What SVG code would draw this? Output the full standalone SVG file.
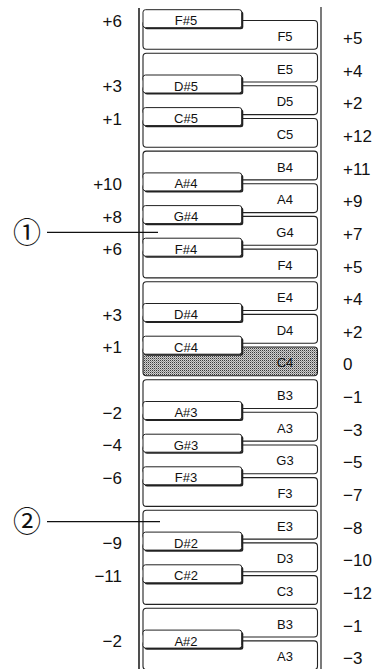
<svg xmlns="http://www.w3.org/2000/svg" width="381" height="669" viewBox="0 0 381 669">
<defs>
<pattern id="dots" width="2" height="2" patternUnits="userSpaceOnUse">
<rect width="2" height="2" fill="#d0d0d0"/>
<rect width="1" height="1" fill="#3a3a3a"/>
<rect x="1" y="1" width="1" height="1" fill="#909090"/>
</pattern>
</defs>
<style>
.wk{fill:#fff;stroke:#222;stroke-width:1.1}
.sh{fill:#222}
.bk{fill:#fff;stroke:#222;stroke-width:1}
.wl{font-family:"Liberation Sans",Arial,sans-serif;font-size:13px;fill:#111;text-anchor:middle}
.bl{font-family:"Liberation Sans",Arial,sans-serif;font-size:13px;fill:#111;text-anchor:middle}
.rn{font-family:"Liberation Sans",Arial,sans-serif;font-size:17px;fill:#111}
.ln{font-family:"Liberation Sans",Arial,sans-serif;font-size:17px;fill:#111;text-anchor:end}
.frame{stroke:#222;fill:none}
.lead{stroke:#111;stroke-width:1.2;fill:none}
.circ{font-family:"Noto Sans CJK JP","DejaVu Sans",sans-serif;font-size:28px;fill:#111;text-anchor:middle}
</style>
<g id="frame">
<line class="frame" x1="139" y1="8" x2="139" y2="669" stroke-width="1.6"/>
<line class="frame" x1="321" y1="7" x2="321" y2="669" stroke-width="1.2"/>
</g>
<g id="white-keys">
<g id="key-F5"><rect class="wk" x="143" y="20.5" width="174.5" height="28.8" rx="3.5"/><text class="wl" x="285" y="40.9">F5</text></g>
<g id="key-E5"><rect class="wk" x="143" y="53.2" width="174.5" height="28.8" rx="3.5"/><text class="wl" x="285" y="73.6">E5</text></g>
<g id="key-D5"><rect class="wk" x="143" y="85.8" width="174.5" height="28.8" rx="3.5"/><text class="wl" x="285" y="106.2">D5</text></g>
<g id="key-C5"><rect class="wk" x="143" y="118.5" width="174.5" height="28.8" rx="3.5"/><text class="wl" x="285" y="138.9">C5</text></g>
<g id="key-B4"><rect class="wk" x="143" y="151.1" width="174.5" height="28.8" rx="3.5"/><text class="wl" x="285" y="171.5">B4</text></g>
<g id="key-A4"><rect class="wk" x="143" y="183.8" width="174.5" height="28.8" rx="3.5"/><text class="wl" x="285" y="204.2">A4</text></g>
<g id="key-G4"><rect class="wk" x="143" y="216.4" width="174.5" height="28.8" rx="3.5"/><text class="wl" x="285" y="236.8">G4</text></g>
<g id="key-F4"><rect class="wk" x="143" y="249.1" width="174.5" height="28.8" rx="3.5"/><text class="wl" x="285" y="269.5">F4</text></g>
<g id="key-E4"><rect class="wk" x="143" y="281.7" width="174.5" height="28.8" rx="3.5"/><text class="wl" x="285" y="302.1">E4</text></g>
<g id="key-D4"><rect class="wk" x="143" y="314.4" width="174.5" height="28.8" rx="3.5"/><text class="wl" x="285" y="334.8">D4</text></g>
<g id="key-C4"><rect class="wk" x="143" y="347" width="174.5" height="28.8" rx="3.5" style="fill:url(#dots)"/><text class="wl" x="285" y="367.4">C4</text></g>
<g id="key-B3"><rect class="wk" x="143" y="379.7" width="174.5" height="28.8" rx="3.5"/><text class="wl" x="285" y="400.1">B3</text></g>
<g id="key-A3"><rect class="wk" x="143" y="412.3" width="174.5" height="28.8" rx="3.5"/><text class="wl" x="285" y="432.7">A3</text></g>
<g id="key-G3"><rect class="wk" x="143" y="445" width="174.5" height="28.8" rx="3.5"/><text class="wl" x="285" y="465.4">G3</text></g>
<g id="key-F3"><rect class="wk" x="143" y="477.6" width="174.5" height="28.8" rx="3.5"/><text class="wl" x="285" y="498">F3</text></g>
<g id="key-E3"><rect class="wk" x="143" y="510.3" width="174.5" height="28.8" rx="3.5"/><text class="wl" x="285" y="530.7">E3</text></g>
<g id="key-D3"><rect class="wk" x="143" y="542.9" width="174.5" height="28.8" rx="3.5"/><text class="wl" x="285" y="563.3">D3</text></g>
<g id="key-C3"><rect class="wk" x="143" y="575.6" width="174.5" height="28.8" rx="3.5"/><text class="wl" x="285" y="596">C3</text></g>
<g id="key-B3b"><rect class="wk" x="143" y="608.2" width="174.5" height="28.8" rx="3.5"/><text class="wl" x="285" y="628.6">B3</text></g>
<g id="key-A3b"><rect class="wk" x="143" y="640.9" width="174.5" height="28.8" rx="3.5"/><text class="wl" x="285" y="661.3">A3</text></g>
</g>
<g id="black-keys">
<g id="key-Fs5"><rect class="sh" x="144.6" y="11.3" width="98.7" height="18" rx="2.5"/><rect class="bk" x="143" y="9.7" width="98.7" height="18" rx="2.5"/><text class="bl" x="186" y="25.2">F#5</text></g>
<g id="key-Ds5"><rect class="sh" x="144.6" y="76.6" width="98.7" height="18" rx="2.5"/><rect class="bk" x="143" y="75" width="98.7" height="18" rx="2.5"/><text class="bl" x="186" y="90.5">D#5</text></g>
<g id="key-Cs5"><rect class="sh" x="144.6" y="109.2" width="98.7" height="18" rx="2.5"/><rect class="bk" x="143" y="107.6" width="98.7" height="18" rx="2.5"/><text class="bl" x="186" y="123.1">C#5</text></g>
<g id="key-As4"><rect class="sh" x="144.6" y="174.5" width="98.7" height="18" rx="2.5"/><rect class="bk" x="143" y="172.9" width="98.7" height="18" rx="2.5"/><text class="bl" x="186" y="188.4">A#4</text></g>
<g id="key-Gs4"><rect class="sh" x="144.6" y="207.2" width="98.7" height="18" rx="2.5"/><rect class="bk" x="143" y="205.6" width="98.7" height="18" rx="2.5"/><text class="bl" x="186" y="221.1">G#4</text></g>
<g id="key-Fs4"><rect class="sh" x="144.6" y="239.8" width="98.7" height="18" rx="2.5"/><rect class="bk" x="143" y="238.2" width="98.7" height="18" rx="2.5"/><text class="bl" x="186" y="253.7">F#4</text></g>
<g id="key-Ds4"><rect class="sh" x="144.6" y="305.1" width="98.7" height="18" rx="2.5"/><rect class="bk" x="143" y="303.5" width="98.7" height="18" rx="2.5"/><text class="bl" x="186" y="319">D#4</text></g>
<g id="key-Cs4"><rect class="sh" x="144.6" y="337.8" width="98.7" height="18" rx="2.5"/><rect class="bk" x="143" y="336.2" width="98.7" height="18" rx="2.5"/><text class="bl" x="186" y="351.7">C#4</text></g>
<g id="key-As3"><rect class="sh" x="144.6" y="403.1" width="98.7" height="18" rx="2.5"/><rect class="bk" x="143" y="401.5" width="98.7" height="18" rx="2.5"/><text class="bl" x="186" y="417">A#3</text></g>
<g id="key-Gs3"><rect class="sh" x="144.6" y="435.8" width="98.7" height="18" rx="2.5"/><rect class="bk" x="143" y="434.2" width="98.7" height="18" rx="2.5"/><text class="bl" x="186" y="449.7">G#3</text></g>
<g id="key-Fs3"><rect class="sh" x="144.6" y="468.4" width="98.7" height="18" rx="2.5"/><rect class="bk" x="143" y="466.8" width="98.7" height="18" rx="2.5"/><text class="bl" x="186" y="482.3">F#3</text></g>
<g id="key-Ds2"><rect class="sh" x="144.6" y="533.7" width="98.7" height="18" rx="2.5"/><rect class="bk" x="143" y="532.1" width="98.7" height="18" rx="2.5"/><text class="bl" x="186" y="547.6">D#2</text></g>
<g id="key-Cs2"><rect class="sh" x="144.6" y="566.4" width="98.7" height="18" rx="2.5"/><rect class="bk" x="143" y="564.8" width="98.7" height="18" rx="2.5"/><text class="bl" x="186" y="580.3">C#2</text></g>
<g id="key-As2"><rect class="sh" x="144.6" y="631.7" width="98.7" height="18" rx="2.5"/><rect class="bk" x="143" y="630.1" width="98.7" height="18" rx="2.5"/><text class="bl" x="186" y="645.6">A#2</text></g>
</g>
<g id="left-values">
<text class="ln" x="122" y="26.7">+6</text>
<text class="ln" x="122" y="92">+3</text>
<text class="ln" x="122" y="124.7">+1</text>
<text class="ln" x="122" y="190">+10</text>
<text class="ln" x="122" y="222.6">+8</text>
<text class="ln" x="122" y="255.3">+6</text>
<text class="ln" x="122" y="320.6">+3</text>
<text class="ln" x="122" y="353.2">+1</text>
<text class="ln" x="122" y="418.5">−2</text>
<text class="ln" x="122" y="451.2">−4</text>
<text class="ln" x="122" y="483.8">−6</text>
<text class="ln" x="122" y="549.1">−9</text>
<text class="ln" x="122" y="581.8">−11</text>
<text class="ln" x="122" y="647.1">−2</text>
</g>
<g id="right-values">
<text class="rn" x="343" y="43.9">+5</text>
<text class="rn" x="343" y="76.6">+4</text>
<text class="rn" x="343" y="109.2">+2</text>
<text class="rn" x="343" y="141.9">+12</text>
<text class="rn" x="343" y="174.5">+11</text>
<text class="rn" x="343" y="207.2">+9</text>
<text class="rn" x="343" y="239.8">+7</text>
<text class="rn" x="343" y="272.5">+5</text>
<text class="rn" x="343" y="305.1">+4</text>
<text class="rn" x="343" y="337.8">+2</text>
<text class="rn" x="343" y="370.4">0</text>
<text class="rn" x="343" y="403.1">−1</text>
<text class="rn" x="343" y="435.7">−3</text>
<text class="rn" x="343" y="468.4">−5</text>
<text class="rn" x="343" y="501">−7</text>
<text class="rn" x="343" y="533.7">−8</text>
<text class="rn" x="343" y="566.3">−10</text>
<text class="rn" x="343" y="599">−12</text>
<text class="rn" x="343" y="631.6">−1</text>
<text class="rn" x="343" y="664.3">−3</text>
</g>
<g id="callout-1"><text class="circ" x="27" y="242.6">①</text></g>
<g id="callout-2"><text class="circ" x="27" y="532.3">②</text></g>
<g id="connectors">
<line class="lead" x1="47" y1="232.3" x2="158" y2="232.3"/>
<line class="lead" x1="47" y1="521.7" x2="160" y2="521.7"/>
</g>
</svg>
